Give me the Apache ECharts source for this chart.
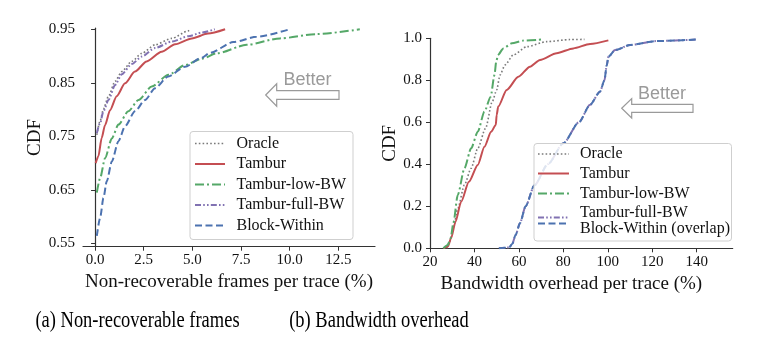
<!DOCTYPE html>
<html>
<head>
<meta charset="utf-8">
<script src="https://cdn.jsdelivr.net/npm/echarts@6/dist/echarts.min.js"></script>
<style>
html,body{margin:0;padding:0;background:#fff;}
#chart{width:771px;height:355px;}
</style>
</head>
<body>
<div id="chart"></div>
<script>
// ---------- (a) Non-recoverable frames per trace (%) vs CDF ----------
var seriesNames = ['Oracle', 'Tambur', 'Tambur-low-BW', 'Tambur-full-BW', 'Block-Within'];

var oracleA_x = [0.09, 0.26, 0.43, 0.69, 1.03, 1.37, 1.88, 2.40, 3.08, 3.94, 4.79, 4.90];
var oracleA_y = [0.753, 0.779, 0.801, 0.825, 0.853, 0.871, 0.890, 0.905, 0.921, 0.933, 0.947, 0.950];

var tamburA_x = [0.03, 0.17, 0.34, 0.51, 0.77, 1.11, 1.54, 2.05, 2.65, 3.42, 4.11, 4.97, 5.80, 6.68];
var tamburA_y = [0.700, 0.713, 0.747, 0.771, 0.799, 0.825, 0.849, 0.871, 0.890, 0.908, 0.922, 0.933, 0.942, 0.950];

var lowA_x = [0.09, 0.26, 0.51, 0.86, 1.20, 1.71, 2.23, 2.91, 3.77, 4.62, 5.48, 6.25, 7.79, 9.50, 11.39, 13.60];
var lowA_y = [0.645, 0.672, 0.709, 0.746, 0.772, 0.797, 0.818, 0.843, 0.865, 0.883, 0.895, 0.905, 0.921, 0.933, 0.941, 0.950];

var fullA_x = [0.09, 0.26, 0.43, 0.69, 1.03, 1.37, 1.88, 2.40, 3.08, 3.94, 4.79, 5.50, 6.15];
var fullA_y = [0.756, 0.775, 0.797, 0.818, 0.846, 0.866, 0.885, 0.899, 0.915, 0.927, 0.937, 0.944, 0.950];

var blockA_x = [0.09, 0.26, 0.43, 0.60, 0.86, 1.20, 1.54, 2.05, 2.57, 3.08, 3.76, 4.62, 5.48, 5.91, 7.10, 8.30, 10.00];
var blockA_y = [0.564, 0.598, 0.635, 0.666, 0.703, 0.741, 0.769, 0.797, 0.818, 0.840, 0.862, 0.880, 0.897, 0.906, 0.926, 0.936, 0.950];

var ticksA_x = [0, 2.5, 5, 7.5, 10, 12.5];
var ticksA_y = [0.55, 0.65, 0.75, 0.85, 0.95];

// ---------- (b) Bandwidth overhead per trace (%) vs CDF ----------
var oracleB_x = [27.5, 28.8, 30.5, 32.5, 35.5, 38.5, 41.5, 45.0, 48.0, 50.0, 51.5, 53.75, 57.5, 63.5, 72.5, 83.0, 89.5];
var oracleB_y = [0, 0.032, 0.095, 0.19, 0.302, 0.381, 0.476, 0.571, 0.698, 0.754, 0.825, 0.873, 0.921, 0.960, 0.984, 0.994, 0.995];

var tamburB_x = [26, 28, 29.5, 31.5, 34, 37.5, 41.5, 44.5, 47.5, 49.6, 50, 50.7, 54.5, 59.75, 65, 69.5, 77, 84.5, 92, 100.25];
var tamburB_y = [0, 0.008, 0.048, 0.127, 0.222, 0.317, 0.397, 0.484, 0.555, 0.587, 0.635, 0.675, 0.754, 0.817, 0.865, 0.897, 0.929, 0.952, 0.973, 0.990];

var lowB_x = [26, 28, 29.3, 30.5, 32.5, 35.5, 38.5, 41.5, 44.5, 47.3, 49.0, 49.8, 50.6, 53.0, 56.8, 62.0, 70.0];
var lowB_y = [0, 0.016, 0.048, 0.12, 0.254, 0.381, 0.476, 0.555, 0.651, 0.722, 0.825, 0.889, 0.921, 0.952, 0.976, 0.989, 0.994];

// Tambur-full-BW and Block-Within overlap in (b)
var fullB_x = [51, 55.5, 57, 58.5, 60.5, 63, 67, 73, 80, 87, 92, 96.5, 98.5, 99.5, 100.3, 103.3, 110, 122, 140];
var fullB_y = [0, 0.004, 0.02, 0.063, 0.12, 0.2, 0.3, 0.4, 0.5, 0.6, 0.683, 0.746, 0.8, 0.87, 0.913, 0.944, 0.968, 0.987, 0.994];
var blockB_x = [51, 55.5, 57, 58.5, 60.5, 63, 67, 73, 80, 87, 92, 96.5, 98.5, 99.5, 100.3, 103.3, 110, 122, 140];
var blockB_y = [0, 0.004, 0.02, 0.063, 0.12, 0.2, 0.3, 0.4, 0.5, 0.6, 0.683, 0.746, 0.8, 0.87, 0.913, 0.944, 0.968, 0.987, 0.994];

var ticksB_x = [20, 40, 60, 80, 100, 120, 140];
var ticksB_y = [0, 0.2, 0.4, 0.6, 0.8, 1.0];

var captions = ['(a) Non-recoverable frames', '(b) Bandwidth overhead'];

// ---------- styles ----------
var SERIF = 'Liberation Serif';
var SANS = 'Liberation Sans';
var styles = {
  'Oracle':         {color: '#7a7a7a', width: 1.6, dash: [1.6, 2.2]},
  'Tambur':         {color: '#c44e52', width: 2.0, dash: 'solid'},
  'Tambur-low-BW':  {color: '#55a868', width: 2.0, dash: [9, 3, 2, 3]},
  'Tambur-full-BW': {color: '#8172b2', width: 2.0, dash: [6, 2.2, 1.6, 2.2, 1.6, 2.2]},
  'Block-Within':   {color: '#4c72b0', width: 2.0, dash: [7, 3.5]}
};

function pairs(xs, ys) { return xs.map(function (x, i) { return [x, ys[i]]; }); }

function mkSeries(name, xs, ys, idx) {
  var s = styles[name];
  return {
    name: name, type: 'line', xAxisIndex: idx, yAxisIndex: idx,
    data: pairs(xs, ys), showSymbol: false, symbol: 'none',
    smooth: 0.25, smoothMonotone: 'x', animation: false,
    lineStyle: {color: s.color, width: s.width, type: s.dash},
    itemStyle: {color: s.color}, z: 3
  };
}

var axisLineStyle = {show: true, lineStyle: {color: '#333', width: 1.2}};
var tickStyle = {show: true, length: 4, lineStyle: {color: '#333', width: 1}};
var labelFont = {fontFamily: SERIF, fontSize: 15, color: '#111'};
var nameFont = {fontFamily: SERIF, fontSize: 19, color: '#111'};

function xAx(idx, min, max, ticks, name, fmt, pad) {
  return {
    type: 'value', gridIndex: idx, min: min, max: max,
    name: name, nameLocation: 'middle', nameGap: 21,
    nameTextStyle: Object.assign({padding: pad}, nameFont),
    axisLine: axisLineStyle,
    axisTick: Object.assign({customValues: ticks}, tickStyle),
    axisLabel: Object.assign({customValues: ticks, margin: 6, formatter: fmt}, labelFont),
    splitLine: {show: false}
  };
}
function yAx(idx, min, max, ticks, gap, fmt) {
  return {
    type: 'value', gridIndex: idx, min: min, max: max,
    name: 'CDF', nameLocation: 'middle', nameGap: gap, nameRotate: 90,
    nameTextStyle: nameFont,
    axisLine: axisLineStyle,
    axisTick: Object.assign({customValues: ticks}, tickStyle),
    axisLabel: Object.assign({customValues: ticks, margin: 8, formatter: fmt}, labelFont),
    splitLine: {show: false}
  };
}

// ---------- legend + annotations (graphic) ----------
function legendBlock(box, rows) {
  var els = [{type: 'rect', z: 100, shape: {x: box[0], y: box[1], width: box[2], height: box[3], r: 3},
              style: {fill: 'rgba(255,255,255,0.82)', stroke: '#cfcfcf', lineWidth: 1}}];
  rows.forEach(function (r) {
    r.lines.forEach(function (ln) {
      var s = styles[ln.name];
      els.push({type: 'line', z: 101, shape: {x1: r.lx1, y1: ln.y, x2: r.lx2, y2: ln.y},
        style: {stroke: s.color, lineWidth: s.width, lineDash: s.dash === 'solid' ? null : s.dash}});
    });
    els.push({type: 'text', z: 101, x: r.tx, y: r.ty,
      style: {text: r.text, fontFamily: SERIF, fontSize: 16, fill: '#111',
              textAlign: 'left', textVerticalAlign: 'middle', align: 'left', verticalAlign: 'middle', lineHeight: 16}});
  });
  return els;
}

var legendA = legendBlock([190, 131.5, 163, 108], [
  {text: 'Oracle', tx: 236.5, ty: 143.5, lx1: 195, lx2: 225, lines: [{name: 'Oracle', y: 143.5}]},
  {text: 'Tambur', tx: 236.5, ty: 164, lx1: 195, lx2: 225, lines: [{name: 'Tambur', y: 164}]},
  {text: 'Tambur-low-BW', tx: 236.5, ty: 184.5, lx1: 195, lx2: 225, lines: [{name: 'Tambur-low-BW', y: 184.5}]},
  {text: 'Tambur-full-BW', tx: 236.5, ty: 205, lx1: 195, lx2: 225, lines: [{name: 'Tambur-full-BW', y: 205}]},
  {text: 'Block-Within', tx: 236.5, ty: 225.5, lx1: 195, lx2: 225, lines: [{name: 'Block-Within', y: 225.5}]}
]);
var legendB = legendBlock([534, 143.5, 197.5, 97.5], [
  {text: 'Oracle', tx: 580, ty: 154, lx1: 538, lx2: 569, lines: [{name: 'Oracle', y: 154}]},
  {text: 'Tambur', tx: 580, ty: 173.5, lx1: 538, lx2: 569, lines: [{name: 'Tambur', y: 173.5}]},
  {text: 'Tambur-low-BW', tx: 580, ty: 193.5, lx1: 538, lx2: 569, lines: [{name: 'Tambur-low-BW', y: 193.5}]},
  {text: 'Tambur-full-BW\nBlock-Within (overlap)', tx: 580, ty: 221, lx1: 538, lx2: 569,
   lines: [{name: 'Tambur-full-BW', y: 217.5}, {name: 'Block-Within', y: 223.5}]}
]);

function arrow(tipX, tipY, headX, halfHead, halfShaft, tailX) {
  return {type: 'polygon', z: 50, shape: {points: [
    [tipX, tipY], [headX, tipY - halfHead], [headX, tipY - halfShaft], [tailX, tipY - halfShaft],
    [tailX, tipY + halfShaft], [headX, tipY + halfShaft], [headX, tipY + halfHead]]},
    style: {fill: '#fff', stroke: '#9a9a9a', lineWidth: 1.2}};
}
function betterText(x, y) {
  return {type: 'text', z: 50, x: x, y: y, style: {text: 'Better', fontFamily: SANS, fontSize: 18, fill: '#9a9a9a',
    textAlign: 'center', textVerticalAlign: 'middle', align: 'center', verticalAlign: 'middle'}};
}
function caption(text, x, y) {
  return {type: 'text', z: 50, x: x, y: y, scaleX: 0.77, style: {text: text, fontFamily: SERIF, fontSize: 24, fill: '#000',
    textAlign: 'center', textVerticalAlign: 'middle', align: 'center', verticalAlign: 'middle'}};
}

var graphics = [].concat(
  [arrow(265.7, 95, 276.7, 11.2, 4.3, 339), betterText(307.5, 80.5),
   arrow(621.7, 108.3, 631.7, 9.7, 4, 693), betterText(662, 94.5),
   caption(captions[0], 137.5, 321), caption(captions[1], 379, 321)],
  legendA, legendB
);

var fmt1 = function (v) { return v.toFixed(1); };
var fmt2 = function (v) { return v.toFixed(2); };
var fmt0 = function (v) { return String(Math.round(v)); };

var option = {
  backgroundColor: '#fff',
  animation: false,
  grid: [
    {left: 83, right: 396, top: 28.2, bottom: 108.3, containLabel: false},
    {left: 430, right: 38.3, top: 38.3, bottom: 106.7, containLabel: false}
  ],
  xAxis: [
    xAx(0, -0.62, 14.38, ticksA_x, 'Non-recoverable frames per trace (%)', fmt1, [0, 0, 0, 0]),
    xAx(1, 20, 156.2, ticksB_x, 'Bandwidth overhead per trace (%)', fmt0, [0, 20, 0, 0])
  ],
  yAxis: [
    yAx(0, 0.544, 0.952, ticksA_y, 37, fmt2),
    yAx(1, 0, 1.0, ticksB_y, 28, fmt1)
  ],
  series: [
    mkSeries('Oracle', oracleA_x, oracleA_y, 0),
    mkSeries('Tambur', tamburA_x, tamburA_y, 0),
    mkSeries('Tambur-low-BW', lowA_x, lowA_y, 0),
    mkSeries('Tambur-full-BW', fullA_x, fullA_y, 0),
    mkSeries('Block-Within', blockA_x, blockA_y, 0),
    mkSeries('Oracle', oracleB_x, oracleB_y, 1),
    mkSeries('Tambur', tamburB_x, tamburB_y, 1),
    mkSeries('Tambur-low-BW', lowB_x, lowB_y, 1),
    mkSeries('Tambur-full-BW', fullB_x, fullB_y, 1),
    mkSeries('Block-Within', blockB_x, blockB_y, 1)
  ],
  graphic: graphics
};

var chart = echarts.init(document.getElementById('chart'), null, {renderer: 'canvas'});
chart.setOption(option);
</script>
</body>
</html>
